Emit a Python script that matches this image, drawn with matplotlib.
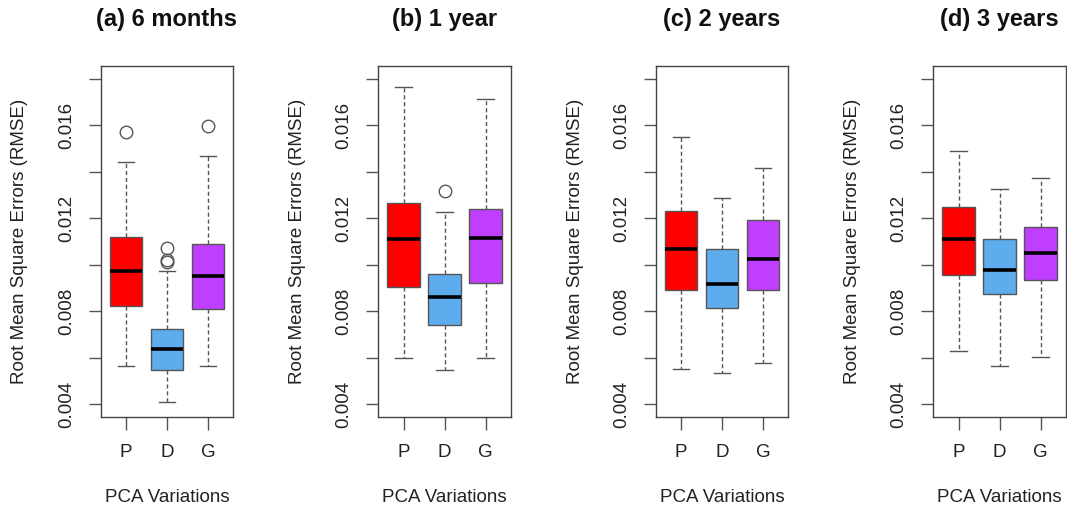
"""
Boxplots of RMSE for PCA variations across forecast horizons (R-style look).
"""
import matplotlib
matplotlib.use('Agg')
import matplotlib.pyplot as plt

plt.rcParams['font.family'] = ['Liberation Sans', 'DejaVu Sans']

panel_titles = ['(a) 6 months', '(b) 1 year', '(c) 2 years', '(d) 3 years']
variations = ['P', 'D', 'G']
box_colors = ['#FF0000', '#5CACEE', '#BF3EFF']

# per panel, per variation: [whisker low, q1, median, q3, whisker high]
stats_6m = [[0.00565, 0.00824, 0.00974, 0.01119, 0.01442],
            [0.00411, 0.00546, 0.00639, 0.00724, 0.00973],
            [0.00565, 0.00808, 0.00951, 0.01087, 0.01466]]
stats_1y = [[0.00598, 0.00903, 0.01112, 0.01266, 0.01765],
            [0.00547, 0.00741, 0.00862, 0.00961, 0.01225],
            [0.00598, 0.00920, 0.01115, 0.01239, 0.01712]]
stats_2y = [[0.00552, 0.00890, 0.01067, 0.01231, 0.01550],
            [0.00536, 0.00812, 0.00917, 0.01067, 0.01288],
            [0.00577, 0.00892, 0.01026, 0.01192, 0.01417]]
stats_3y = [[0.00629, 0.00956, 0.01112, 0.01249, 0.01490],
            [0.00563, 0.00873, 0.00977, 0.01109, 0.01326],
            [0.00602, 0.00934, 0.01049, 0.01163, 0.01372]]

outliers_6m = [[0.01571], [0.01072, 0.01022, 0.01012], [0.01597]]
outliers_1y = [[], [0.01318], []]
outliers_2y = [[], [], []]
outliers_3y = [[], [], []]

all_stats = [stats_6m, stats_1y, stats_2y, stats_3y]
all_outliers = [outliers_6m, outliers_1y, outliers_2y, outliers_3y]

y_ticks = [0.004, 0.006, 0.008, 0.010, 0.012, 0.014, 0.016, 0.018]
y_labelled = [0.004, 0.008, 0.012, 0.016]

W, H = 1067, 513
fig = plt.figure(figsize=(W / 100, H / 100), dpi=100)

lefts = [100.7, 378.3, 655.7, 933.3]
ax_w, ax_top, ax_bot = 132.6, 65.7, 416.7

frame_col = '#444444'
grey = '#555555'

for i, left in enumerate(lefts):
    ax = fig.add_axes([left / W, (H - ax_bot) / H, ax_w / W, (ax_bot - ax_top) / H])

    bxp_stats = []
    for j, name in enumerate(variations):
        lo, q1, med, q3, hi = all_stats[i][j]
        bxp_stats.append({'label': name, 'whislo': lo, 'q1': q1, 'med': med,
                          'q3': q3, 'whishi': hi, 'fliers': all_outliers[i][j]})

    parts = ax.bxp(bxp_stats, positions=[1, 2, 3], widths=0.8, patch_artist=True,
                   boxprops=dict(edgecolor=grey, linewidth=1.0),
                   whiskerprops=dict(color=grey, linestyle=(0, (3, 2)), linewidth=1.0),
                   capprops=dict(color=grey, linewidth=1.0),
                   medianprops=dict(color='black', linewidth=2.6, solid_capstyle='butt'),
                   flierprops=dict(marker='o', markerfacecolor='none', markeredgecolor=grey,
                                   markersize=9, markeredgewidth=1.0),
                   capwidths=0.4)
    for patch, col in zip(parts['boxes'], box_colors):
        patch.set_facecolor(col)

    ax.set_xlim(0.38, 3.62)
    ax.set_ylim(0.00347, 0.01855)

    ax.set_yticks(y_ticks)
    ax.set_yticklabels([f'{t:.3f}' if any(abs(t - v) < 1e-9 for v in y_labelled) else ''
                        for t in y_ticks], rotation=90, va='center')
    ax.set_xticks([1, 2, 3])
    ax.set_xticklabels(variations)

    ax.tick_params(axis='y', length=8.6, width=1.0, color=grey, pad=10, labelsize=13.5,
                   labelcolor='#222222')
    ax.tick_params(axis='x', length=9, width=1.0, color=grey, pad=11, labelsize=13.5,
                   labelcolor='#222222')
    for sp in ax.spines.values():
        sp.set_color(frame_col)
        sp.set_linewidth(1.0)

    ax.set_ylabel('Root Mean Square Errors (RMSE)', fontsize=13.5, color='#222222')
    ax.yaxis.set_label_coords(-80.7 / ax_w, 0.5)
    ax.yaxis.label.set_va('center')
    ax.set_xlabel('PCA Variations', fontsize=13.5, color='#222222')
    ax.xaxis.set_label_coords(0.5, -(498 - ax_bot) / (ax_bot - ax_top))
    ax.xaxis.label.set_va('center')

    ax.text(0.5, (ax_bot - 20) / (ax_bot - ax_top), panel_titles[i], transform=ax.transAxes,
            ha='center', va='center', fontsize=17, fontweight='bold', color='#111111')

fig.savefig('out.png', dpi=100)
